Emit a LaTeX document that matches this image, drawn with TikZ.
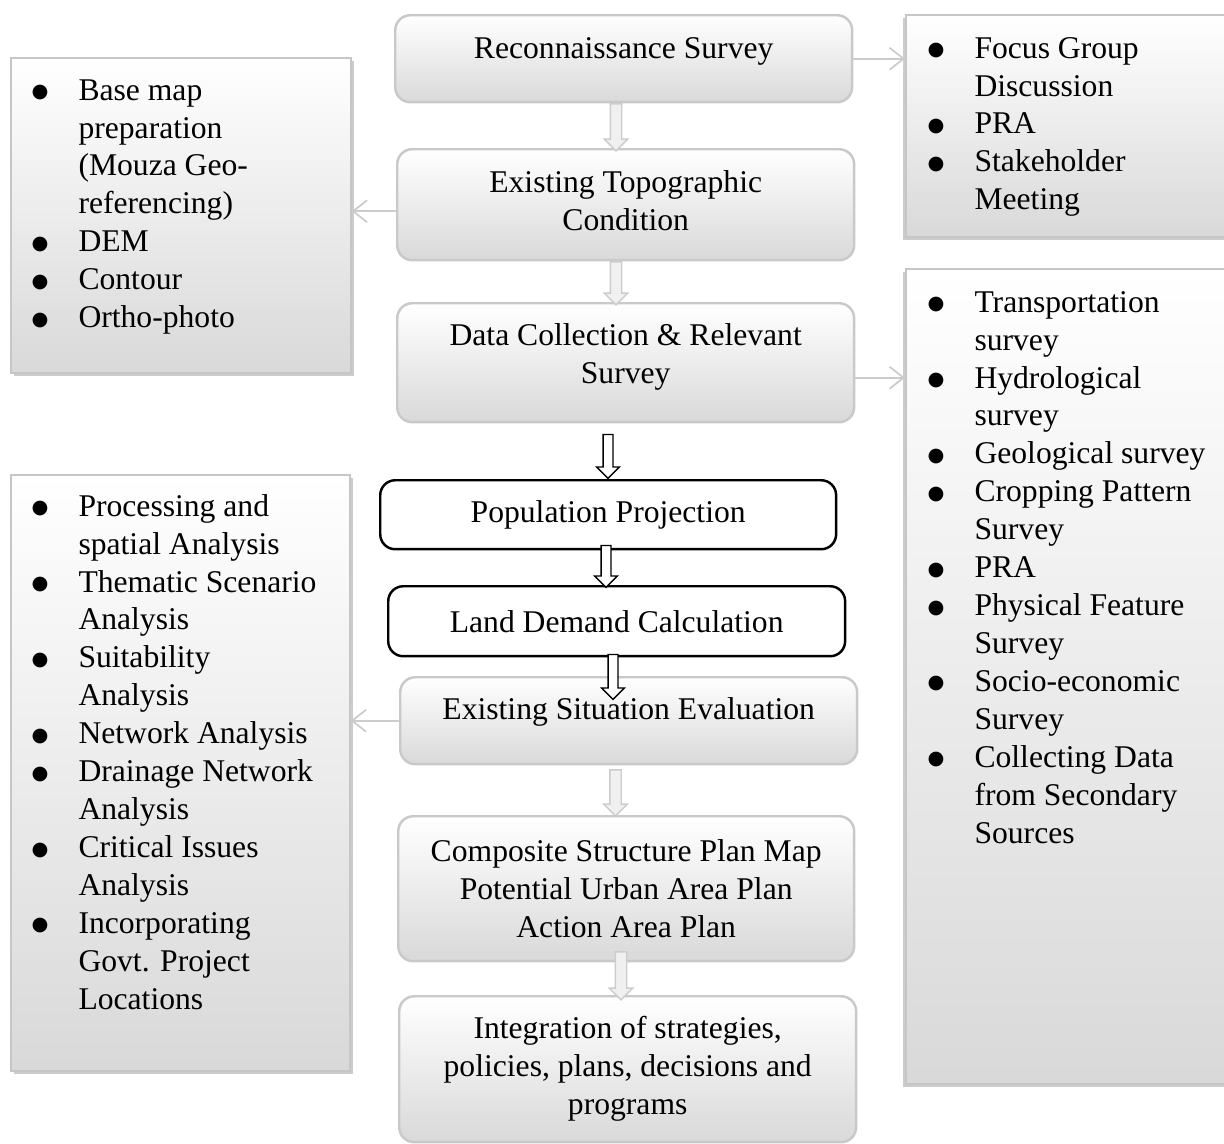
\documentclass[tikz,border=0pt]{standalone}
\usepackage{fontspec}
\setmainfont{Liberation Serif}
\newfontfamily\dotfont{DejaVu Sans}
\usepackage{tikz}
\usetikzlibrary{shapes.arrows, shadows, arrows.meta}

\newcommand{\itm}[1]{\strut\makebox[0.94cm][l]{\raisebox{1.5pt}{\dotfont\fontsize{11pt}{0pt}\selectfont ●}}#1}
\newcommand{\cnt}[1]{\hspace*{0.94cm}#1}

\begin{document}
\begin{tikzpicture}[x=0.02cm, y=-0.02cm, semithick]
\tikzset{font=\fontsize{18pt}{21.6pt}\selectfont}
\tikzstyle{flowbox}=[draw=gray!42, line width=1.4pt, rounded corners=0.3cm, top color=white, bottom color=gray!30, align=center, anchor=north west, inner sep=0pt, minimum width=9.14cm]
\tikzstyle{stepbox}=[draw=black, line width=1.4pt, rounded corners=0.3cm, fill=white, align=center, anchor=north west, inner sep=0pt, minimum width=9.14cm]
\tikzstyle{sidebox}=[draw=gray!45, line width=1pt, top color=white, bottom color=gray!30, anchor=north west, inner sep=0pt, minimum width=6.8cm]
\tikzstyle{bullets}=[align=left, anchor=north west, inner sep=0pt]
\tikzstyle{garrow}=[single arrow, draw=gray!40, fill=gray!12, rotate=-90, inner xsep=0pt, inner ysep=0.1cm, single arrow head extend=0.12cm, line width=0.8pt]
\tikzstyle{barrow}=[single arrow, draw=black, fill=white, rotate=-90, inner xsep=0pt, inner ysep=0.085cm, single arrow head extend=0.13cm, line width=0.8pt]
\tikzstyle{thinarrow}=[draw=gray!40, line width=1pt, -{Straight Barb[length=0.28cm, width=0.44cm]}]

\useasboundingbox (0,0) rectangle (1224,1143);

        % side boxes
        \node[sidebox, minimum height=6.3cm, drop shadow={shadow xshift=0.06cm, shadow yshift=-0.06cm, opacity=0.4}]      (l1) at (10,57)   {};
        \node[sidebox, minimum height=11.92cm, minimum width=6.78cm, drop shadow={shadow xshift=0.06cm, shadow yshift=-0.06cm, opacity=0.4}]      (l2) at (10,474)  {};
        \node[sidebox, minimum height=4.44cm, drop shadow={shadow xshift=-0.06cm, shadow yshift=-0.06cm, opacity=0.4}]     (r1) at (905,14)  {};
        \node[sidebox, minimum height=16.3cm, drop shadow={shadow xshift=-0.06cm, shadow yshift=-0.06cm, opacity=0.4}]     (r2) at (905,268) {};

        \node[bullets]      (l1t) at (31,73)   {\itm{Base map}\\ \cnt{preparation}\\ \cnt{(Mouza Geo-}\\ \cnt{referencing)}\\ \itm{DEM}\\ \itm{Contour}\\ \itm{Ortho-photo}};
        \node[bullets]      (l2t) at (31,489)  {\itm{Processing and}\\ \cnt{spatial Analysis}\\ \itm{Thematic Scenario}\\ \cnt{Analysis}\\ \itm{Suitability}\\ \cnt{Analysis}\\ \itm{Network Analysis}\\ \itm{Drainage Network}\\ \cnt{Analysis}\\ \itm{Critical Issues}\\ \cnt{Analysis}\\ \itm{Incorporating}\\ \cnt{Govt. Project}\\ \cnt{Locations}};
        \node[bullets]      (r1t) at (927,31)  {\itm{Focus Group}\\ \cnt{Discussion}\\ \itm{PRA}\\ \itm{Stakeholder}\\ \cnt{Meeting}};
        \node[bullets]      (r2t) at (927,285) {\itm{Transportation}\\ \cnt{survey}\\ \itm{Hydrological}\\ \cnt{survey}\\ \itm{Geological survey}\\ \itm{Cropping Pattern}\\ \cnt{Survey}\\ \itm{PRA}\\ \itm{Physical Feature}\\ \cnt{Survey}\\ \itm{Socio-economic}\\ \cnt{Survey}\\ \itm{Collecting Data}\\ \cnt{from Secondary}\\ \cnt{Sources}};

        % main column
        \node[flowbox, minimum height=1.74cm, text depth=12pt]     (rec)   at (394,14)   {Reconnaissance Survey};
        \node[flowbox, minimum height=2.22cm, text depth=4.6pt]     (topo)  at (396,148)  {Existing Topographic\\ Condition};
        \node[flowbox, minimum height=2.38cm, text depth=10pt]     (data)  at (396,302)  {Data Collection \& Relevant\\ Survey};
        \node[stepbox, minimum height=1.38cm, minimum width=9.12cm]     (pop)   at (379,479)  {Population Projection};
        \node[stepbox, minimum height=1.40cm]     (land)  at (387,585)  {Land Demand Calculation};
        \node[flowbox, minimum height=1.74cm, text depth=14pt]     (ese)   at (399,676)  {Existing Situation Evaluation};
        \node[flowbox, minimum height=2.90cm, minimum width=9.12cm]     (comp)  at (397,815)  {Composite Structure Plan Map\\ Potential Urban Area Plan\\ Action Area Plan};
        \node[flowbox, minimum height=2.92cm]     (integ) at (398,995)  {Integration of strategies,\\ policies, plans, decisions and\\ programs};

        \node[garrow, minimum height=0.94cm]      (a1) at (616,124.5) {};
        \node[garrow, minimum height=0.86cm]      (a2) at (616,280.5) {};
        \node[barrow, minimum height=0.88cm]      (a3) at (608,454)   {};
        \node[barrow, minimum height=0.84cm]      (a4) at (606,564)   {};
        \node[barrow, minimum height=0.90cm]      (a5) at (613,674.5) {};
        \node[garrow, minimum height=0.92cm]      (a6) at (615.5,790) {};
        \node[garrow, minimum height=0.96cm]      (a7) at (621,973)   {};

        \coordinate (tl) at ([yshift=-0.13cm]topo.west);
        \coordinate (dr) at ([yshift=-0.3cm]data.east);

        \path
        (rec.east)  edge[thinarrow]  (rec.east -| r1.west)
        (tl)        edge[thinarrow]  (tl -| l1.east)
        (dr)        edge[thinarrow]  (dr -| r2.west)
        (ese.west)  edge[thinarrow]  (ese.west -| l2.east)
        ; %end path

\end{tikzpicture}
\end{document}
